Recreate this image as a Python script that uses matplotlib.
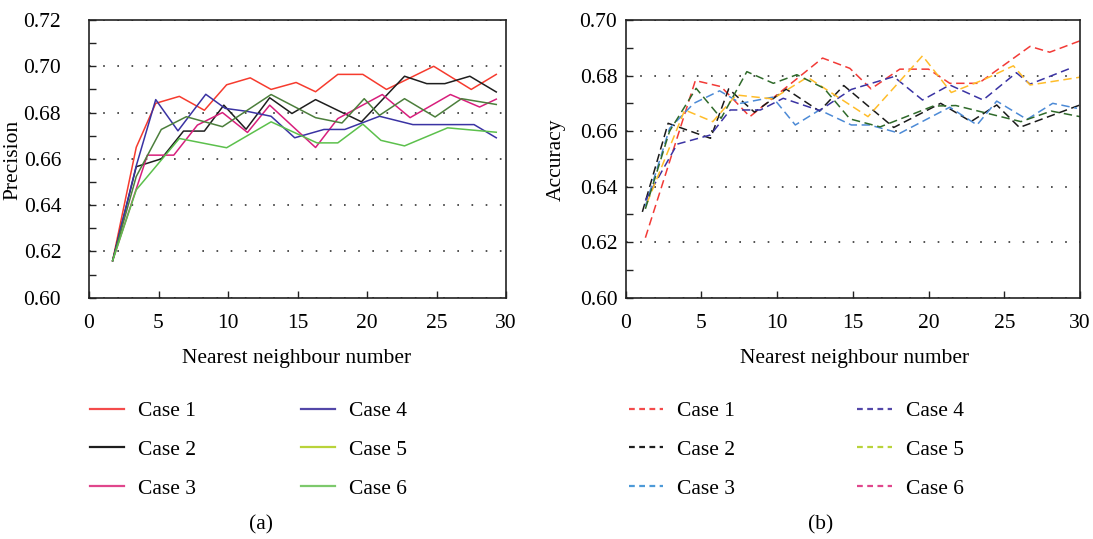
import matplotlib

matplotlib.use("Agg")
import matplotlib.pyplot as plt
from matplotlib.lines import Line2D
from matplotlib.ticker import MultipleLocator

plt.rcParams["font.family"] = ["Liberation Serif", "DejaVu Serif"]

# ---- data ----
case_labels = ["Case 1", "Case 2", "Case 3", "Case 4", "Case 5", "Case 6"]

# (a) precision, solid lines
prec_x_c1 = [1.7, 3.4, 4.8, 6.5, 8.3, 9.9, 11.6, 13.1, 14.9, 16.3, 17.9, 19.7, 21.4, 24.8, 27.5, 29.3]
prec_c1 = [0.616, 0.665, 0.684, 0.687, 0.681, 0.692, 0.695, 0.690, 0.693, 0.689, 0.6965, 0.6965, 0.690, 0.700, 0.690, 0.6965]
prec_x_c2 = [1.7, 3.4, 5.2, 6.8, 8.3, 9.7, 11.3, 13.0, 14.6, 16.3, 19.6, 22.7, 24.3, 25.6, 27.4, 29.3]
prec_c2 = [0.616, 0.6566, 0.660, 0.672, 0.672, 0.6832, 0.6728, 0.6864, 0.6796, 0.6856, 0.676, 0.6957, 0.6925, 0.6925, 0.6957, 0.6889]
prec_x_c3 = [1.7, 4.2, 6.1, 7.8, 9.6, 11.4, 13.0, 16.3, 17.9, 21.1, 23.1, 26.0, 28.1, 29.3]
prec_c3 = [0.616, 0.6616, 0.6616, 0.6746, 0.680, 0.6714, 0.6832, 0.6649, 0.6774, 0.6878, 0.6778, 0.6878, 0.6824, 0.6858]
prec_x_c4 = [1.7, 3.4, 4.8, 6.4, 8.4, 9.8, 11.4, 13.1, 14.8, 16.9, 18.4, 20.9, 23.3, 27.7, 29.3]
prec_c4 = [0.616, 0.657, 0.6856, 0.6721, 0.6879, 0.6818, 0.6805, 0.6784, 0.6691, 0.6727, 0.6727, 0.6784, 0.6748, 0.6748, 0.6691]
prec_x_c5 = [1.7, 3.4, 5.2, 7.0, 9.6, 13.1, 16.3, 18.2, 19.8, 20.9, 22.7, 24.9, 26.8, 29.3]
prec_c5 = [0.616, 0.6524, 0.6727, 0.6782, 0.6739, 0.6878, 0.6778, 0.6755, 0.686, 0.6788, 0.686, 0.6781, 0.686, 0.6835]
prec_x_c6 = [1.7, 3.4, 6.5, 9.9, 13.1, 16.4, 17.9, 19.7, 21.0, 22.7, 25.8, 29.3]
prec_c6 = [0.616, 0.6466, 0.6688, 0.6648, 0.676, 0.6669, 0.6669, 0.675, 0.668, 0.6656, 0.6734, 0.6715]

# (b) accuracy, dashed lines
acc_x_c1 = [1.3, 4.6, 6.3, 8.2, 13.0, 14.8, 16.2, 18.1, 20.0, 21.4, 23.3, 26.7, 28.0, 30.0]
acc_c1 = [0.6216, 0.6782, 0.676, 0.6652, 0.6863, 0.6826, 0.6752, 0.6823, 0.6823, 0.6772, 0.6772, 0.6905, 0.6884, 0.6925]
acc_x_c2 = [1.1, 2.8, 5.6, 6.8, 8.5, 10.6, 12.8, 14.4, 17.7, 20.8, 22.8, 24.5, 26.0, 30.0]
acc_c2 = [0.6309, 0.6628, 0.6574, 0.6752, 0.6668, 0.6751, 0.6672, 0.6764, 0.6613, 0.670, 0.6634, 0.6694, 0.6613, 0.6694]
acc_x_c3 = [1.3, 2.9, 4.5, 6.2, 7.6, 9.7, 11.2, 12.8, 14.9, 16.1, 18.1, 21.4, 23.2, 24.5, 26.5, 28.2, 29.8]
acc_c3 = [0.633, 0.661, 0.670, 0.6745, 0.670, 0.6722, 0.6622, 0.6676, 0.6622, 0.6622, 0.6592, 0.6686, 0.6622, 0.6708, 0.6642, 0.670, 0.6682]
acc_x_c4 = [1.3, 3.4, 5.6, 6.9, 8.9, 10.4, 12.8, 14.9, 17.7, 19.6, 21.4, 23.6, 25.8, 26.7, 29.5]
acc_c4 = [0.635, 0.6553, 0.6586, 0.6676, 0.6676, 0.6718, 0.6674, 0.675, 0.6796, 0.6712, 0.6766, 0.6712, 0.681, 0.6769, 0.6829]
acc_x_c5 = [1.4, 3.9, 5.75, 7.3, 9.7, 12.0, 16.0, 19.6, 21.5, 23.6, 25.6, 26.7, 30.0]
acc_c5 = [0.634, 0.6676, 0.6634, 0.673, 0.6716, 0.6794, 0.6652, 0.6871, 0.6739, 0.6784, 0.6835, 0.6766, 0.6794]
acc_x_c6 = [1.3, 2.9, 4.65, 6.3, 8.0, 9.75, 11.3, 13.1, 14.8, 16.8, 20.3, 21.8, 26.1, 28.1, 30.0]
acc_c6 = [0.632, 0.660, 0.6754, 0.6646, 0.6814, 0.6772, 0.6803, 0.6754, 0.6644, 0.6615, 0.669, 0.6692, 0.6634, 0.6672, 0.6652]

prec_series = [
    (prec_x_c1, prec_c1), (prec_x_c2, prec_c2), (prec_x_c3, prec_c3),
    (prec_x_c4, prec_c4), (prec_x_c5, prec_c5), (prec_x_c6, prec_c6),
]
acc_series = [
    (acc_x_c1, acc_c1), (acc_x_c2, acc_c2), (acc_x_c3, acc_c3),
    (acc_x_c4, acc_c4), (acc_x_c5, acc_c5), (acc_x_c6, acc_c6),
]

# line colours as drawn in the plots
prec_colors = ["#f63b2e", "#1e1e1e", "#d81f7c", "#3a33a3", "#4c7f3c", "#5cc04c"]
acc_colors = ["#f23a36", "#1a1a1a", "#4c8ad6", "#3a33a3", "#ffbd2a", "#2f6a2a"]
# colours used in the legend images
prec_legend_colors = ["#f44b4b", "#1e1e1e", "#e0468c", "#5347a8", "#b9d33a", "#7dc96c"]
acc_legend_colors = ["#f44b4b", "#1e1e1e", "#4d9ad8", "#5347a8", "#b9d33a", "#e0468c"]

W, H = 1093, 539
DASH = (0, (5.5, 3.0))
FS = 15.5


def fx(px):
    return px / W


def fy(py):
    return 1 - py / H


def style_axes(ax, ymax, label_pad):
    ax.set_xlim(0, 30)
    ax.set_ylim(0.60, ymax)
    ax.xaxis.set_major_locator(MultipleLocator(5))
    ax.yaxis.set_major_locator(MultipleLocator(0.02))
    ax.yaxis.set_minor_locator(MultipleLocator(0.01))
    ax.yaxis.set_major_formatter(plt.FuncFormatter(lambda v, _: f"{v:.2f}"))
    ax.tick_params(axis="both", which="both", direction="in", top=False, right=False,
                   labelsize=FS, color="#222222", width=1.0)
    ax.tick_params(axis="y", which="major", length=5, pad=label_pad)
    ax.tick_params(axis="y", which="minor", length=5)
    ax.tick_params(axis="x", which="major", length=5, pad=12)
    ax.grid(axis="y", which="major", linestyle=(0, (1.0, 7.5)), linewidth=1.2, color="#333333")
    for sp in ax.spines.values():
        sp.set_linewidth(1.2)
        sp.set_color("#222222")


fig = plt.figure(figsize=(W / 100, H / 100), dpi=100)

ax_a = fig.add_axes([fx(89), fy(297.7), fx(506) - fx(89), fy(20) - fy(297.7)])
ax_b = fig.add_axes([fx(625.7), fy(297.7), fx(1080) - fx(625.7), fy(20) - fy(297.7)])

for (xs, ys), c in zip(prec_series, prec_colors):
    ax_a.plot(xs, ys, color=c, linewidth=1.1)
for (xs, ys), c in zip(acc_series, acc_colors):
    ax_b.plot(xs, ys, color=c, linewidth=1.1, linestyle=DASH)

style_axes(ax_a, 0.72, 20)
style_axes(ax_b, 0.70, 6)

fig.text(fx(13), fy(160), "Precision", fontsize=FS, rotation=90, ha="center", va="center")
fig.text(fx(556), fy(160), "Accuracy", fontsize=FS, rotation=90, ha="center", va="center")

fig.text(fx(297), fy(358), "Nearest neighbour number", fontsize=FS, ha="center", va="center")
fig.text(fx(855), fy(358), "Nearest neighbour number", fontsize=FS, ha="center", va="center")
fig.text(fx(261), fy(525), "(a)", fontsize=FS, ha="center", va="center")
fig.text(fx(821), fy(525), "(b)", fontsize=FS, ha="center", va="center")

# legends: 3 rows x 2 columns, column-major order
handles_a = [Line2D([], [], color=c, linewidth=1.6) for c in prec_legend_colors]
handles_b = [Line2D([], [], color=c, linewidth=1.6, linestyle=(0, (2.6, 2.0))) for c in acc_legend_colors]

fig.legend(handles_a, case_labels, loc="upper left", bbox_to_anchor=(fx(90), fy(401)),
           ncol=2, frameon=False, fontsize=FS, borderpad=0, borderaxespad=0,
           handlelength=1.6, handletextpad=0.65, columnspacing=4.85, labelspacing=0.87)
fig.legend(handles_b, case_labels, loc="upper left", bbox_to_anchor=(fx(629), fy(401)),
           ncol=2, frameon=False, fontsize=FS, borderpad=0, borderaxespad=0,
           handlelength=1.6, handletextpad=0.65, columnspacing=5.65, labelspacing=0.87)

fig.savefig("out.png", dpi=100)
